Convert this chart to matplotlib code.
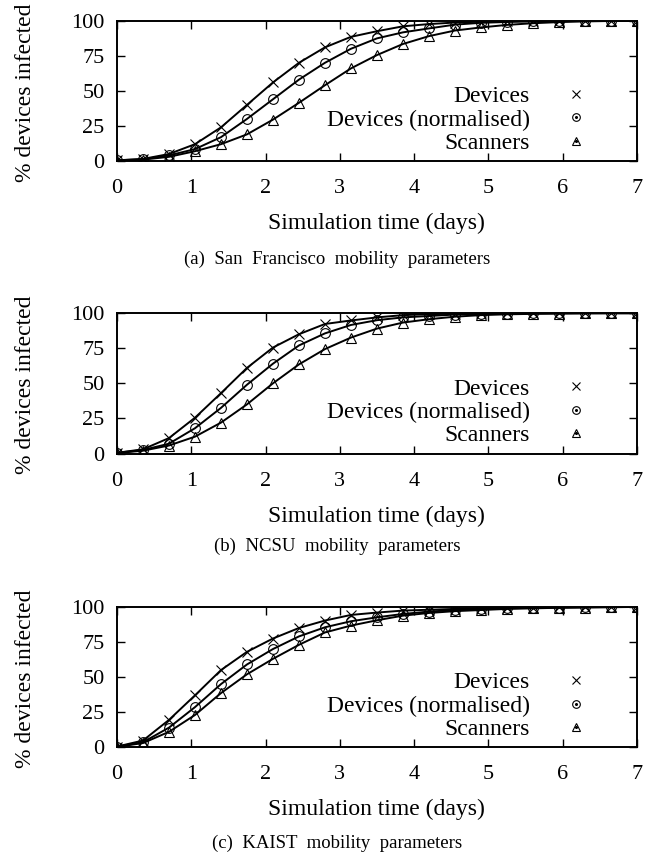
import matplotlib
matplotlib.use('Agg')
import matplotlib.pyplot as plt
from matplotlib.lines import Line2D
from matplotlib.legend_handler import HandlerTuple

plt.rcParams['font.family'] = ['Liberation Serif', 'DejaVu Serif']

days = [0, 0.35, 0.7, 1.05, 1.4, 1.75, 2.1, 2.45, 2.8, 3.15, 3.5,
        3.85, 4.2, 4.55, 4.9, 5.25, 5.6, 5.95, 6.3, 6.65, 7.0]

# San Francisco
sf_devices = [0.5, 1.5, 5, 12, 24, 40, 56, 70, 81, 88.5, 92.5, 96, 97.6, 98.7,
              99.3, 99.6, 99.8, 99.9, 100, 100, 100]
sf_norm = [0.5, 1.3, 4, 8.5, 17, 30, 44, 58, 70, 80, 87.4, 91.7, 94.5, 97.2,
           98.5, 99.1, 99.5, 99.7, 99.9, 100, 100]
sf_scan = [0.3, 1, 3, 7, 12, 19, 29.5, 41.5, 54, 66, 75.5, 83.4, 89, 93,
           95.2, 97, 98.2, 99, 99.5, 99.8, 100]

# NCSU
ncsu_devices = [0.5, 3, 11, 25.5, 43, 61, 75.5, 85, 92.3, 94.8, 97, 98.6, 99.3,
                99.6, 99.8, 99.9, 100, 100, 100, 100, 100]
ncsu_norm = [0.5, 2.5, 7, 18, 32.5, 49, 64, 77, 85.6, 91.6, 95, 97, 98, 99,
             99.5, 99.7, 99.9, 100, 100, 100, 100]
ncsu_scan = [0.3, 2, 5.7, 12, 22, 35, 50, 63.5, 74.4, 82.6, 89, 93.3, 95.7,
             97.5, 98.6, 99.2, 99.5, 99.7, 99.9, 100, 100]

# KAIST
kaist_devices = [0.5, 4.8, 19.5, 37, 55, 68, 77.5, 85, 90.3, 94.3, 96, 97.4,
                 98, 98.6, 99, 99.4, 99.6, 99.8, 99.9, 100, 100]
kaist_norm = [0.5, 3.6, 14, 28.6, 45, 59, 70, 79, 85.5, 89.8, 92.6, 95, 96.7,
              97.8, 98.6, 99, 99.4, 99.6, 99.8, 99.9, 100]
kaist_scan = [0.3, 3, 11, 23, 38.6, 52, 63, 73, 81.8, 86.7, 90.5, 93.8, 95.7,
              97, 97.8, 98.6, 99, 99.4, 99.6, 99.8, 100]

series_labels = ['Devices', 'Devices (normalised)', 'Scanners']
captions = ['(a)  San  Francisco  mobility  parameters',
            '(b)  NCSU  mobility  parameters',
            '(c)  KAIST  mobility  parameters']
panels = [(sf_devices, sf_norm, sf_scan),
          (ncsu_devices, ncsu_norm, ncsu_scan),
          (kaist_devices, kaist_norm, kaist_scan)]

fig = plt.figure(figsize=(6.58, 8.63), dpi=100)

left, width, height = 0.1778, 0.790, 0.1626
bottoms = [0.8134, 0.4745, 0.1341]
cap_y = [0.699, 0.367, 0.023]
markers = ['x', 'o', '^']

for i, (dev, norm, scan) in enumerate(panels):
    ax = fig.add_axes([left, bottoms[i], width, height])
    for vals, m in zip((dev, norm, scan), markers):
        ax.plot(days, vals, color='black', lw=1.4, marker=m, ms=7,
                mfc='none', mec='black', mew=0.8)
    ax.set_xlim(0, 7)
    ax.set_ylim(0, 100)
    ax.set_xticks(range(0, 8))
    ax.set_yticks([0, 25, 50, 75, 100])
    ax.tick_params(direction='in', length=6, width=1, top=True, right=True,
                   labelsize=16)
    ax.tick_params(axis='x', pad=13)
    ax.tick_params(axis='y', pad=9)
    for s in ax.spines.values():
        s.set_linewidth(1.4)
    ax.set_ylabel('% devices infected', fontsize=17)
    ax.yaxis.set_label_coords(-0.155, 0.49)
    ax.set_xlabel('Simulation time (days)', fontsize=17)
    ax.xaxis.set_label_coords(0.5, -0.37)

    handles = []
    for m in markers:
        big = Line2D([], [], ls='none', marker=m, ms=5.5, mfc='none',
                     mec='black', mew=0.8)
        dot = Line2D([], [], ls='none', marker='o', ms=1.2, color='black')
        handles.append((big, dot) if m != 'x' else big)
    ax.legend(handles, series_labels, loc='lower right',
              bbox_to_anchor=(0.921, 0.05), frameon=False, markerfirst=False,
              fontsize=17, handlelength=1.7, handletextpad=1.1,
              labelspacing=0.08, borderpad=0, borderaxespad=0,
              handler_map={tuple: HandlerTuple(ndivide=1)})

    fig.text(0.512, cap_y[i], captions[i], ha='center', va='center',
             fontsize=13.5)

fig.savefig('out.png', dpi=100)
